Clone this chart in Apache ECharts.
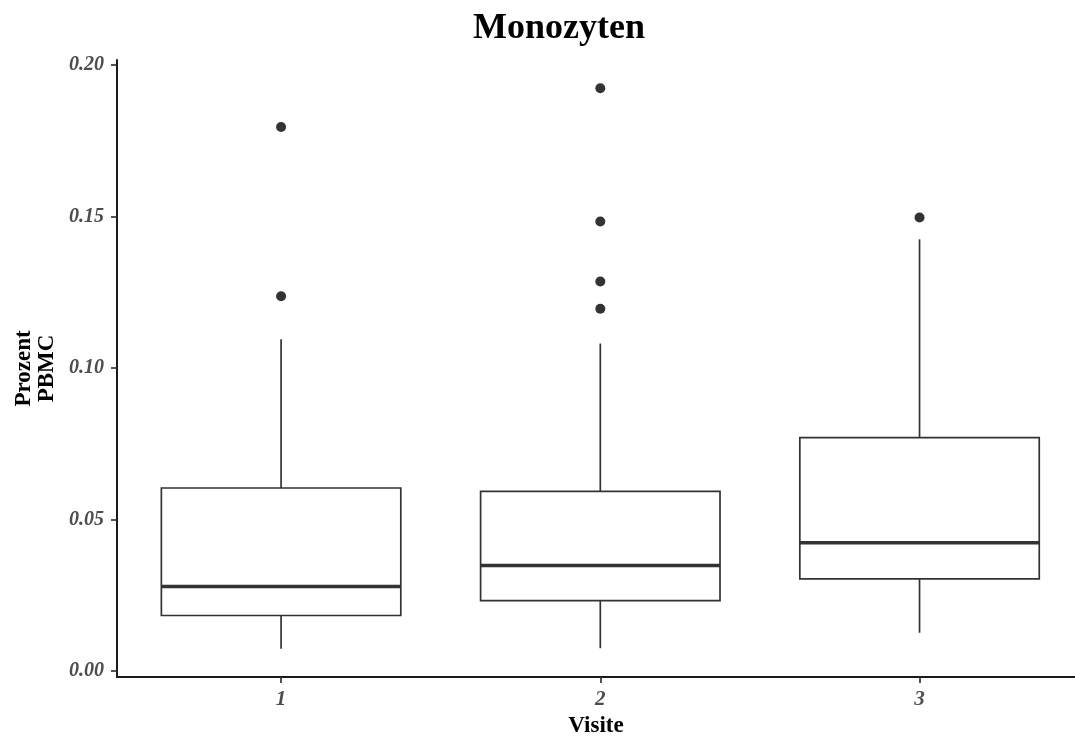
<!DOCTYPE html>
<html>
<head>
<meta charset="utf-8">
<title>Monozyten</title>
<script src="https://cdn.jsdelivr.net/npm/echarts@6/dist/echarts.min.js"></script>
<style>
  html, body { margin: 0; padding: 0; background: #ffffff; }
  #chart { width: 1075px; height: 738px; }
</style>
</head>
<body>
<div id="chart"></div>
<script>
// Visits on the x axis
const visits = [1, 2, 3];
const visitLabels = ['1', '2', '3'];

// Box statistics per visit (share of PBMC)
const whiskerLow  = [0.0073, 0.0075, 0.0126];
const quartile1   = [0.0183, 0.0232, 0.0304];
const medians     = [0.0279, 0.0348, 0.0423];
const quartile3   = [0.0604, 0.0593, 0.0770];
const whiskerHigh = [0.1095, 0.1081, 0.1425];

// Outlying observations: visit and value
const outlierVisit = [1, 1, 2, 2, 2, 2, 3];
const outlierValue = [0.1796, 0.1237, 0.1924, 0.1484, 0.1286, 0.1196, 0.1497];

// y tick values and labels
const yTicks = [0, 0.05, 0.10, 0.15, 0.20];
const yTickLabels = ['0.00', '0.05', '0.10', '0.15', '0.20'];

const boxData = visits.map((v, i) =>
  [v, whiskerLow[i], quartile1[i], medians[i], quartile3[i], whiskerHigh[i]]);
const outlierData = outlierVisit.map((v, i) => [v, outlierValue[i]]);

const BOX_WIDTH = 0.75;
const INK = '#333333';

function renderBox(params, api) {
  const x = api.value(0);
  const lo = api.coord([x, api.value(1)]);
  const q1 = api.coord([x, api.value(2)]);
  const md = api.coord([x, api.value(3)]);
  const q3 = api.coord([x, api.value(4)]);
  const hi = api.coord([x, api.value(5)]);
  const half = api.size([BOX_WIDTH, 0])[0] / 2;
  const cx = lo[0];
  const lineStyle = { stroke: INK, lineWidth: 1.7, fill: null };
  return {
    type: 'group',
    children: [
      { type: 'line', shape: { x1: cx, y1: q1[1], x2: cx, y2: lo[1] }, style: lineStyle },
      { type: 'line', shape: { x1: cx, y1: q3[1], x2: cx, y2: hi[1] }, style: lineStyle },
      { type: 'rect',
        shape: { x: cx - half, y: q3[1], width: half * 2, height: q1[1] - q3[1] },
        style: { stroke: INK, lineWidth: 1.7, fill: '#ffffff' } },
      { type: 'line', shape: { x1: cx - half, y1: md[1], x2: cx + half, y2: md[1] },
        style: { stroke: INK, lineWidth: 3.6 } }
    ]
  };
}

const chart = echarts.init(document.getElementById('chart'), null, { renderer: 'canvas' });

chart.setOption({
  backgroundColor: '#ffffff',
  animation: false,
  title: {
    text: 'Monozyten',
    left: 554,
    top: 6,
    textAlign: 'center',
    textStyle: {
      fontFamily: 'Liberation Serif',
      fontWeight: 'bold',
      fontSize: 36,
      color: '#000000'
    }
  },
  grid: {
    left: 117, right: 0, top: 60, bottom: 61,
    containLabel: false,
    outerBoundsMode: 'none'
  },
  xAxis: {
    type: 'value',
    min: 0.486,
    max: 3.487,
    name: 'Visite',
    nameLocation: 'middle',
    nameGap: 33,
    nameTextStyle: {
      fontFamily: 'Liberation Serif',
      fontWeight: 'bold',
      fontSize: 23,
      color: '#000000'
    },
    splitLine: { show: false },
    axisLine: { show: true, onZero: false, lineStyle: { color: '#1a1a1a', width: 2 } },
    axisTick: {
      show: true, length: 6, inside: false,
      customValues: visits,
      lineStyle: { color: INK, width: 1.7 }
    },
    axisLabel: {
      customValues: visits,
      margin: 12,
      fontFamily: 'Liberation Serif',
      fontStyle: 'italic',
      fontWeight: 'bold',
      fontSize: 21,
      color: '#4d4d4d',
      formatter: v => visitLabels[visits.indexOf(Math.round(v))] || ''
    }
  },
  yAxis: {
    type: 'value',
    min: -0.002,
    max: 0.2017,
    name: 'Prozent\nPBMC',
    nameLocation: 'middle',
    nameRotate: 90,
    nameGap: 58,
    nameTextStyle: {
      fontFamily: 'Liberation Serif',
      fontWeight: 'bold',
      fontSize: 23,
      lineHeight: 23,
      color: '#000000'
    },
    splitLine: { show: false },
    axisLine: { show: true, onZero: false, lineStyle: { color: '#1a1a1a', width: 2 } },
    axisTick: {
      show: true, length: 6, inside: false,
      customValues: yTicks,
      lineStyle: { color: INK, width: 1.7 }
    },
    axisLabel: {
      customValues: yTicks,
      margin: 13,
      fontFamily: 'Liberation Serif',
      fontStyle: 'italic',
      fontWeight: 'bold',
      fontSize: 20,
      color: '#4d4d4d',
      formatter: v => {
        const i = yTicks.findIndex(t => Math.abs(t - v) < 1e-9);
        return i >= 0 ? yTickLabels[i] : '';
      }
    }
  },
  series: [
    {
      type: 'custom',
      name: 'Monozyten',
      renderItem: renderBox,
      encode: { x: 0, y: [1, 2, 3, 4, 5] },
      data: boxData,
      z: 2
    },
    {
      type: 'scatter',
      name: 'Ausreißer',
      data: outlierData,
      symbol: 'circle',
      symbolSize: 10,
      itemStyle: { color: INK, opacity: 1 },
      z: 3
    }
  ]
});
</script>
</body>
</html>
